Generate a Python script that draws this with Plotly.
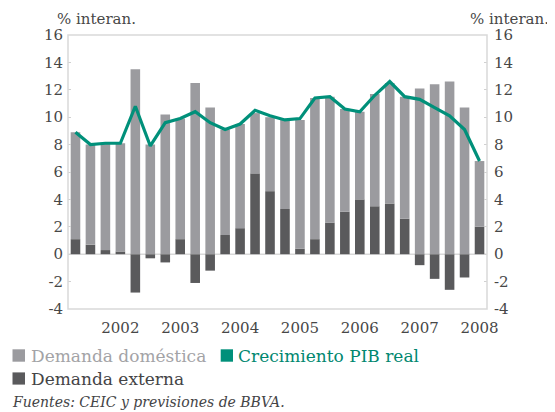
import plotly.graph_objects as go

quarters = [f"{q}T{y}" for y in range(2002, 2009) for q in (1, 2, 3, 4)]
year_labels = ["2002", "2003", "2004", "2005", "2006", "2007", "2008"]
year_ticks = [f"4T{y}" for y in year_labels]
y_tick_values = [-4, -2, 0, 2, 4, 6, 8, 10, 12, 14, 16]
y_tick_labels = ["-4", "-2", "0", "2", "4", "6", "8", "10", "12", "14", "16"]

demanda_domestica = [7.8, 7.3, 7.8, 7.9, 13.5, 8.0, 10.2, 8.8, 12.5, 10.7, 7.7, 7.6, 4.4, 5.4,
                     6.5, 9.4, 10.3, 9.2, 7.5, 6.4, 8.2, 8.8, 8.9, 12.1, 12.4, 12.6, 10.7, 4.8]
demanda_externa = [1.1, 0.7, 0.3, 0.2, -2.8, -0.3, -0.6, 1.1, -2.1, -1.2, 1.4, 1.9, 5.9, 4.6,
                   3.3, 0.4, 1.1, 2.3, 3.1, 4.0, 3.5, 3.7, 2.6, -0.8, -1.8, -2.6, -1.7, 2.0]
pib_real = [8.9, 8.0, 8.1, 8.1, 10.8, 7.9, 9.6, 9.9, 10.4, 9.6, 9.1, 9.5, 10.5, 10.1,
            9.8, 9.9, 11.4, 11.5, 10.6, 10.4, 11.6, 12.6, 11.5, 11.3, 10.7, 10.1, 9.1, 6.8]

C_DOM = "#9b9b9f"
C_EXT = "#5a5a5c"
C_PIB = "#00907a"
TXT = "#474747"
FONT = "DejaVu Serif"

fig = go.Figure()
fig.add_trace(go.Bar(x=quarters, y=demanda_externa, marker=dict(color=C_EXT, line_width=0),
                     name="Demanda externa"))
fig.add_trace(go.Bar(x=quarters, y=demanda_domestica, marker=dict(color=C_DOM, line_width=0),
                     name="Demanda doméstica"))
fig.add_trace(go.Scatter(x=quarters, y=pib_real, mode="lines", yaxis="y2",
                         line=dict(color=C_PIB, width=3.2), name="Crecimiento PIB real"))

# page body has an 8px default margin: work in reference pixels, shift by OFF
OFF = 8
W, H = 555 - OFF, 412 - OFF
L, R, T, B = 68 - OFF, 487 - OFF, 35 - OFF, 309 - OFF

def px(x):
    return (x - OFF - L) / (R - L)

def py(y):
    return (B - (y - OFF)) / (B - T)

axis_common = dict(range=[-4, 16], tickmode="array", tickvals=y_tick_values, ticktext=y_tick_labels,
                   showgrid=False, zeroline=False,
                   ticks="inside", ticklen=3, tickcolor="#d0d0d0",
                   tickfont=dict(family=FONT, size=15, color=TXT),
                   showline=False, fixedrange=True)

fig.update_layout(
    width=W, height=H,
    margin=dict(l=L, r=W - R, t=T, b=H - B, pad=0),
    paper_bgcolor="white", plot_bgcolor="white",
    barmode="relative", bargap=0.36,
    showlegend=False,
    xaxis=dict(type="category", categoryorder="array", categoryarray=quarters,
               range=[-0.5, len(quarters) - 0.5],
               tickmode="array", tickvals=year_ticks, ticktext=year_labels,
               ticks="", showgrid=False, zeroline=False, showline=False,
               tickfont=dict(family=FONT, size=15, color=TXT), ticklabelstandoff=8),
    yaxis=dict(**axis_common, side="left", ticklabelstandoff=4),
    yaxis2=dict(**axis_common, side="right", overlaying="y", ticklabelstandoff=6),
    shapes=[
        dict(type="rect", xref="paper", yref="paper", x0=0, x1=1, y0=0, y1=1,
             line=dict(color="#d9d9d9", width=1.5), layer="above"),
        dict(type="line", xref="paper", yref="y", x0=0, x1=1, y0=0, y1=0,
             line=dict(color="#d9d9d9", width=1.5), layer="below"),
        dict(type="rect", xref="paper", yref="paper", x0=px(12.5), x1=px(25), y0=py(361.7), y1=py(349.3),
             fillcolor=C_DOM, line_width=0),
        dict(type="rect", xref="paper", yref="paper", x0=px(220.7), x1=px(233), y0=py(361.7), y1=py(349.3),
             fillcolor=C_PIB, line_width=0),
        dict(type="rect", xref="paper", yref="paper", x0=px(12.5), x1=px(25), y0=py(384.6), y1=py(372.4),
             fillcolor=C_EXT, line_width=0),
    ],
    annotations=[
        dict(text="% interan.", xref="paper", yref="paper", x=px(96), y=py(19.5), xanchor="center",
             yanchor="middle", showarrow=False, font=dict(family=FONT, size=15, color=TXT)),
        dict(text="% interan.", xref="paper", yref="paper", x=px(510), y=py(19.5), xanchor="center",
             yanchor="middle", showarrow=False, font=dict(family=FONT, size=15, color=TXT)),
        dict(text="Demanda doméstica", xref="paper", yref="paper", x=px(28.5), y=py(356),
             xanchor="left", yanchor="middle", showarrow=False,
             font=dict(family=FONT, size=17, color="#a3a3a6")),
        dict(text="Crecimiento PIB real", xref="paper", yref="paper", x=px(236), y=py(356),
             xanchor="left", yanchor="middle", showarrow=False,
             font=dict(family=FONT, size=17, color="#00876f")),
        dict(text="Demanda externa", xref="paper", yref="paper", x=px(28.5), y=py(379),
             xanchor="left", yanchor="middle", showarrow=False,
             font=dict(family=FONT, size=17, color="#444446")),
        dict(text="<i>Fuentes: CEIC y previsiones de BBVA.</i>", xref="paper", yref="paper",
             x=px(10), y=py(402), xanchor="left", yanchor="middle", showarrow=False,
             font=dict(family=FONT, size=14, color="#444446")),
    ],
)

fig.write_html("out.html")
